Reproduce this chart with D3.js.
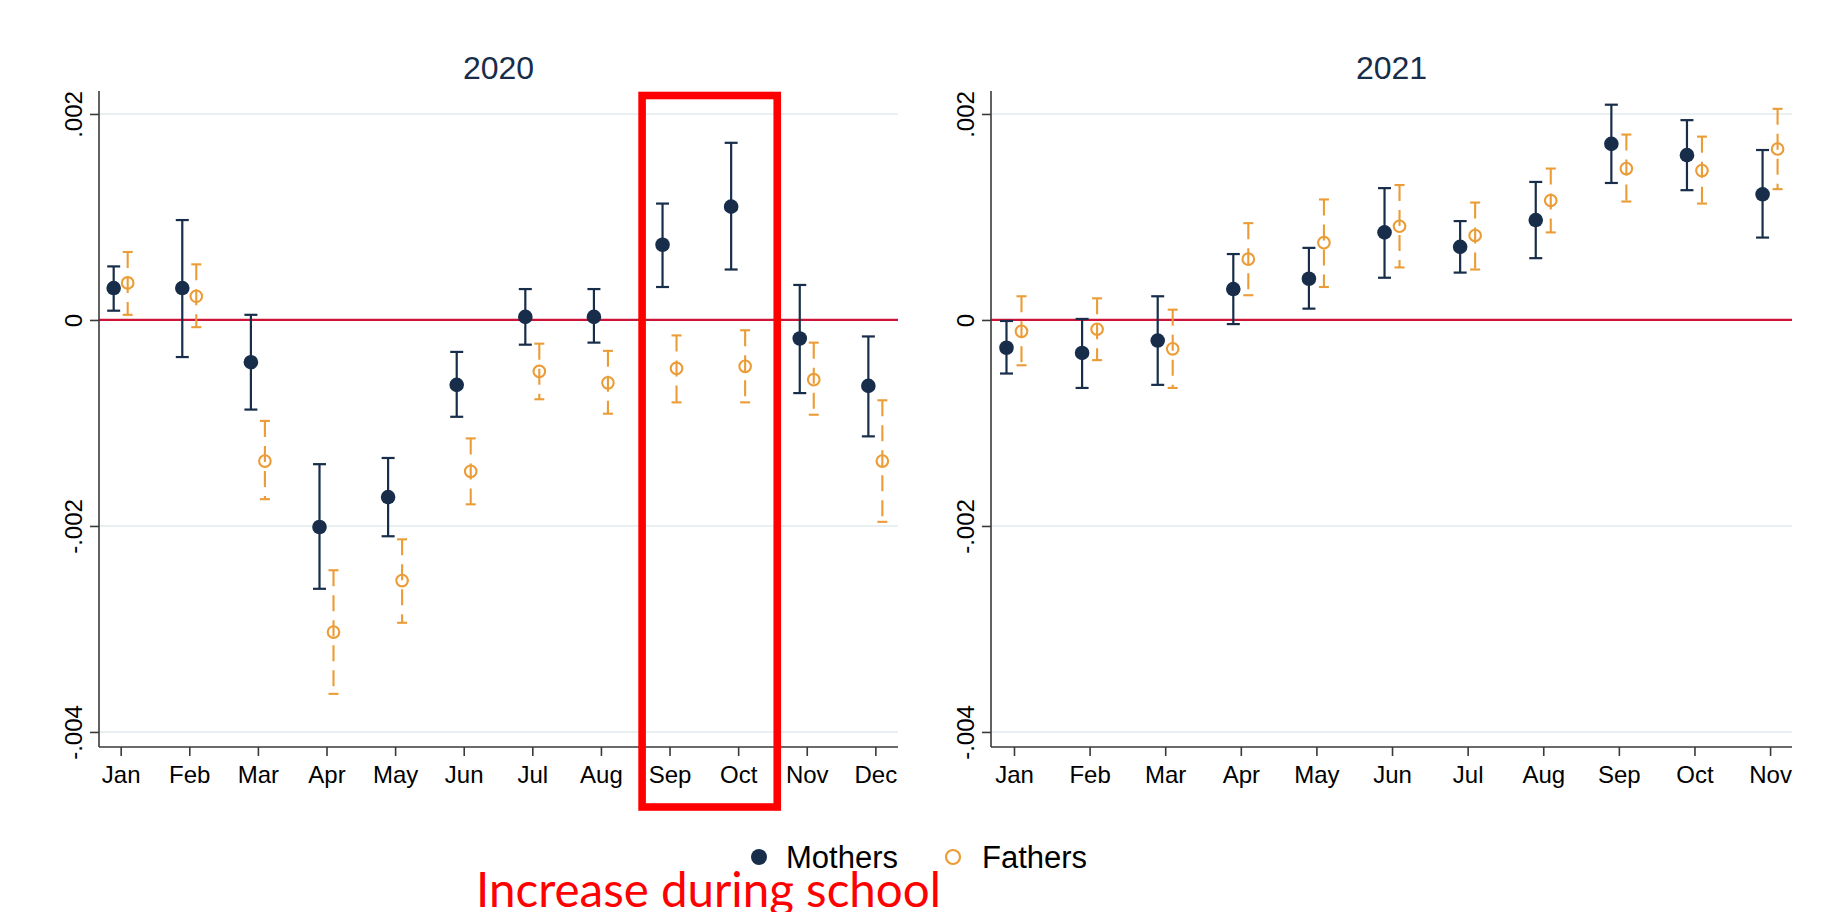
<!DOCTYPE html>
<html>
<head>
<meta charset="utf-8">
<script src="https://cdn.jsdelivr.net/npm/d3@7"></script>
<style>
  html, body { margin: 0; padding: 0; background: #ffffff; }
  svg { display: block; }
</style>
</head>
<body>
<svg id="chart" width="1824" height="912"></svg>
<script>
// Month labels for each panel
const months2020 = ["Jan","Feb","Mar","Apr","May","Jun","Jul","Aug","Sep","Oct","Nov","Dec"];
const months2021 = ["Jan","Feb","Mar","Apr","May","Jun","Jul","Aug","Sep","Oct","Nov"];

// 2020 estimates with 95% confidence bounds
const mothers2020   = [0.00031, 0.00031, -0.00041, -0.00201, -0.00172, -0.00063, 0.00003, 0.00003, 0.00073, 0.00110, -0.00018, -0.00064];
const mothers2020Lo = [0.00009, -0.00036, -0.00087, -0.00261, -0.00210, -0.00094, -0.00024, -0.00022, 0.00032, 0.00049, -0.00071, -0.00113];
const mothers2020Hi = [0.00052, 0.00097, 0.00005, -0.00140, -0.00134, -0.00031, 0.00030, 0.00030, 0.00113, 0.00172, 0.00034, -0.00016];
const fathers2020   = [0.00036, 0.00023, -0.00137, -0.00303, -0.00253, -0.00147, -0.00050, -0.00061, -0.00047, -0.00045, -0.00058, -0.00137];
const fathers2020Lo = [0.00005, -0.00007, -0.00174, -0.00363, -0.00294, -0.00179, -0.00077, -0.00091, -0.00080, -0.00080, -0.00092, -0.00196];
const fathers2020Hi = [0.00066, 0.00054, -0.00098, -0.00243, -0.00213, -0.00115, -0.00023, -0.00030, -0.00015, -0.00010, -0.00022, -0.00078];

// 2021 estimates with 95% confidence bounds
const mothers2021   = [-0.00027, -0.00032, -0.00020, 0.00030, 0.00040, 0.00085, 0.00071, 0.00097, 0.00171, 0.00160, 0.00122];
const mothers2021Lo = [-0.00052, -0.00066, -0.00063, -0.00004, 0.00011, 0.00041, 0.00046, 0.00060, 0.00133, 0.00126, 0.00080];
const mothers2021Hi = [-0.00001, 0.00001, 0.00023, 0.00064, 0.00070, 0.00128, 0.00096, 0.00134, 0.00209, 0.00194, 0.00165];
const fathers2021   = [-0.00011, -0.00009, -0.00028, 0.00059, 0.00075, 0.00091, 0.00082, 0.00116, 0.00147, 0.00145, 0.00166];
const fathers2021Lo = [-0.00044, -0.00039, -0.00066, 0.00024, 0.00032, 0.00051, 0.00049, 0.00085, 0.00115, 0.00113, 0.00127];
const fathers2021Hi = [0.00023, 0.00021, 0.00010, 0.00094, 0.00117, 0.00131, 0.00114, 0.00147, 0.00180, 0.00178, 0.00205];

// Y axis ticks and labels
const yTicks = [-0.004, -0.002, 0, 0.002];
const yTickLabels = ["-.004", "-.002", "0", ".002"];
const yDomain = [-0.004146, 0.002223];

const seriesNames = ["Mothers", "Fathers"];
const panelTitles = ["2020", "2021"];
const highlightMonths = ["Sep", "Oct"];
const noteText = "Increase during school";

const NAVY = "#172d4a";
const ORANGE = "#eb9c36";
const ZERO_RED = "#cc1438";
const GRID = "#e9f0f2";
const AXIS = "#3a3a3a";
const FONT = "'Liberation Sans', Arial, sans-serif";

const svg = d3.select("#chart");

const plotTop = 91, plotBottom = 747;
const y = d3.scaleLinear().domain(yDomain).range([plotBottom, plotTop]);

const panels = [
  {
    title: panelTitles[0], months: months2020,
    left: 99, right: 898, domain: [0.684, 12.33],
    m: mothers2020, mLo: mothers2020Lo, mHi: mothers2020Hi,
    f: fathers2020, fLo: fathers2020Lo, fHi: fathers2020Hi,
    offset: 7
  },
  {
    title: panelTitles[1], months: months2021,
    left: 991, right: 1792, domain: [0.696, 11.29],
    m: mothers2021, mLo: mothers2021Lo, mHi: mothers2021Hi,
    f: fathers2021, fLo: fathers2021Lo, fHi: fathers2021Hi,
    offset: 7.5
  }
];

panels.forEach((p) => {
  const x = d3.scaleLinear().domain(p.domain).range([p.left, p.right]);
  p.x = x;
  const g = svg.append("g");

  // horizontal gridlines (zero is drawn separately in red)
  g.selectAll("line.grid")
    .data(yTicks.filter(t => t !== 0))
    .join("line")
    .attr("class", "grid")
    .attr("x1", p.left).attr("x2", p.right)
    .attr("y1", d => y(d)).attr("y2", d => y(d))
    .attr("stroke", GRID).attr("stroke-width", 2);

  // zero reference line
  g.append("line")
    .attr("x1", p.left).attr("x2", p.right)
    .attr("y1", y(0)).attr("y2", y(0))
    .attr("stroke", ZERO_RED).attr("stroke-width", 2.2);

  // title
  g.append("text")
    .attr("x", (p.left + p.right) / 2).attr("y", 79)
    .attr("text-anchor", "middle")
    .attr("font-family", FONT).attr("font-size", 32)
    .attr("fill", NAVY)
    .text(p.title);

  // Y axis
  const yAxis = d3.axisLeft(y).tickValues(yTicks).tickSize(9).tickFormat((d, i) => yTickLabels[i]);
  const ya = g.append("g").attr("transform", `translate(${p.left},0)`).call(yAxis);
  ya.select(".domain").attr("stroke", AXIS).attr("stroke-width", 1.6).attr("d", `M0,${plotTop}V${plotBottom}`);
  ya.selectAll(".tick line").attr("stroke", AXIS).attr("stroke-width", 1.6);
  ya.selectAll(".tick text")
    .attr("font-family", FONT).attr("font-size", 24).attr("fill", "#000")
    .attr("x", null).attr("dy", null)
    .attr("text-anchor", "middle")
    .attr("transform", "translate(-17,0) rotate(-90)");

  // X axis
  const idx = p.months.map((_, i) => i + 1);
  const xAxis = d3.axisBottom(x).tickValues(idx).tickSize(9).tickFormat(d => p.months[d - 1]);
  const xa = g.append("g").attr("transform", `translate(0,${plotBottom})`).call(xAxis);
  xa.select(".domain").attr("stroke", AXIS).attr("stroke-width", 1.6).attr("d", `M${p.left},0H${p.right}`);
  xa.selectAll(".tick line").attr("stroke", AXIS).attr("stroke-width", 1.6);
  xa.selectAll(".tick text")
    .attr("font-family", FONT).attr("font-size", 24).attr("fill", "#000")
    .attr("y", 36).attr("dy", null);

  const mRows = p.m.map((v, i) => ({ i: i + 1, v, lo: p.mLo[i], hi: p.mHi[i] }));
  const fRows = p.f.map((v, i) => ({ i: i + 1, v, lo: p.fLo[i], hi: p.fHi[i] }));

  // Fathers: dashed capped intervals with hollow circles
  const fg = g.append("g").attr("stroke", ORANGE).attr("stroke-width", 2.1).attr("fill", "none");
  fg.selectAll("line.stem").data(fRows).join("line").attr("class", "stem")
    .attr("x1", d => x(d.i) + p.offset).attr("x2", d => x(d.i) + p.offset)
    .attr("y1", d => y(d.hi)).attr("y2", d => y(d.lo))
    .attr("stroke-dasharray", "16,9");
  fg.selectAll("line.capHi").data(fRows).join("line").attr("class", "capHi")
    .attr("x1", d => x(d.i) + p.offset - 5).attr("x2", d => x(d.i) + p.offset + 5)
    .attr("y1", d => y(d.hi)).attr("y2", d => y(d.hi));
  fg.selectAll("line.capLo").data(fRows).join("line").attr("class", "capLo")
    .attr("x1", d => x(d.i) + p.offset - 5).attr("x2", d => x(d.i) + p.offset + 5)
    .attr("y1", d => y(d.lo)).attr("y2", d => y(d.lo));
  fg.selectAll("circle").data(fRows).join("circle")
    .attr("cx", d => x(d.i) + p.offset).attr("cy", d => y(d.v)).attr("r", 5.8);

  // Mothers: solid capped intervals with filled circles
  const mg = g.append("g").attr("stroke", NAVY).attr("stroke-width", 2.2);
  mg.selectAll("line.stem").data(mRows).join("line").attr("class", "stem")
    .attr("x1", d => x(d.i) - p.offset).attr("x2", d => x(d.i) - p.offset)
    .attr("y1", d => y(d.hi)).attr("y2", d => y(d.lo));
  mg.selectAll("line.capHi").data(mRows).join("line").attr("class", "capHi")
    .attr("x1", d => x(d.i) - p.offset - 6.5).attr("x2", d => x(d.i) - p.offset + 6.5)
    .attr("y1", d => y(d.hi)).attr("y2", d => y(d.hi));
  mg.selectAll("line.capLo").data(mRows).join("line").attr("class", "capLo")
    .attr("x1", d => x(d.i) - p.offset - 6.5).attr("x2", d => x(d.i) - p.offset + 6.5)
    .attr("y1", d => y(d.lo)).attr("y2", d => y(d.lo));
  g.append("g").selectAll("circle").data(mRows).join("circle")
    .attr("cx", d => x(d.i) - p.offset).attr("cy", d => y(d.v)).attr("r", 7.3)
    .attr("fill", NAVY);
});

// Legend
const legend = svg.append("g");
legend.append("circle").attr("cx", 759).attr("cy", 857).attr("r", 8).attr("fill", NAVY);
legend.append("text").attr("x", 786).attr("y", 867.5)
  .attr("font-family", FONT).attr("font-size", 31).attr("fill", "#000").text(seriesNames[0]);
legend.append("circle").attr("cx", 953).attr("cy", 857).attr("r", 7)
  .attr("fill", "none").attr("stroke", ORANGE).attr("stroke-width", 2.2);
legend.append("text").attr("x", 982).attr("y", 867.5)
  .attr("font-family", FONT).attr("font-size", 31).attr("fill", "#000").text(seriesNames[1]);

// Highlight box around the school-term months of 2020
const p0 = panels[0];
const step = p0.x(2) - p0.x(1);
const hx0 = p0.x(months2020.indexOf(highlightMonths[0]) + 1) - 0.4 * step;
const hx1 = p0.x(months2020.indexOf(highlightMonths[1]) + 1) + 0.57 * step;
svg.append("rect")
  .attr("x", hx0).attr("y", 95.5)
  .attr("width", hx1 - hx0).attr("height", 807 - 95.5)
  .attr("fill", "none").attr("stroke", "#ff0000").attr("stroke-width", 7.6);

// Annotation
svg.append("text")
  .attr("x", 476).attr("y", 907)
  .attr("font-family", "Lato, 'Open Sans', sans-serif").attr("font-size", 47.5)
  .attr("fill", "#ff0000")
  .text(noteText);
</script>
</body>
</html>
